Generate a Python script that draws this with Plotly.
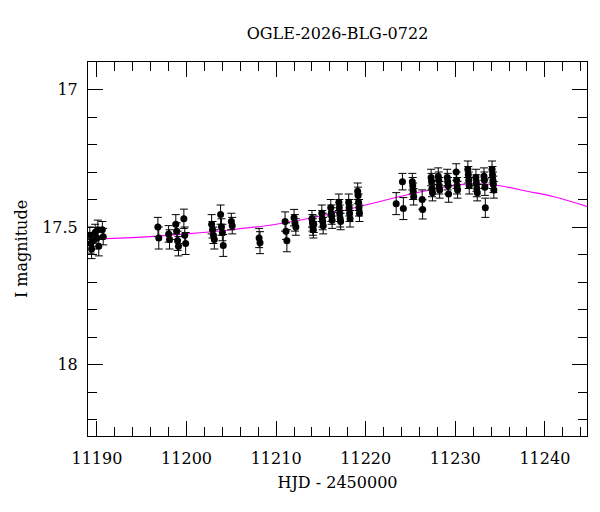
import plotly.graph_objects as go

# Observations: HJD-2450000, I magnitude, error
days = [11189.2, 11189.3, 11189.4, 11189.6, 11189.8, 11190.0, 11190.1, 11190.2, 11190.6, 11190.7,
        11196.8, 11196.9, 11198.0, 11198.1, 11198.8, 11198.9, 11199.0, 11199.1, 11199.7, 11199.8, 11199.9,
        11202.8, 11202.9, 11203.0, 11203.1, 11203.8, 11203.9, 11204.0, 11204.1, 11205.0, 11205.1,
        11208.1, 11208.2,
        11211.0, 11211.1, 11211.2, 11212.0, 11212.1, 11212.2,
        11214.0, 11214.05, 11214.1, 11214.15, 11214.2,
        11215.1, 11215.15, 11215.2, 11215.25,
        11216.1, 11216.15, 11216.2, 11216.25,
        11217.0, 11217.05, 11217.1, 11217.15, 11217.2,
        11218.1, 11218.15, 11218.2, 11218.25,
        11219.1, 11219.15, 11219.2, 11219.25, 11219.3,
        11223.4, 11224.1, 11224.2,
        11225.2, 11225.25, 11225.3, 11225.35,
        11226.3, 11226.35,
        11227.3, 11227.35, 11227.4, 11227.45,
        11228.1, 11228.15, 11228.2, 11228.25,
        11229.1, 11229.15, 11229.2, 11229.25,
        11230.1, 11230.15, 11230.2, 11230.25,
        11231.4, 11231.45, 11231.5, 11231.55,
        11232.3, 11232.35, 11232.4, 11232.45,
        11233.2, 11233.25, 11233.3, 11233.35,
        11234.1, 11234.15, 11234.2, 11234.25, 11234.3]
mags = [17.53, 17.56, 17.58, 17.55, 17.52, 17.54, 17.51, 17.57, 17.51, 17.535,
        17.50, 17.54, 17.525, 17.545, 17.49, 17.515, 17.55, 17.57, 17.47, 17.53, 17.56,
        17.49, 17.51, 17.53, 17.545, 17.455, 17.50, 17.52, 17.567, 17.48, 17.495,
        17.54, 17.557,
        17.48, 17.515, 17.55, 17.466, 17.485, 17.50,
        17.47, 17.485, 17.50, 17.51, 17.49,
        17.45, 17.47, 17.48, 17.495,
        17.43, 17.45, 17.46, 17.475,
        17.41, 17.43, 17.45, 17.47, 17.48,
        17.41, 17.43, 17.45, 17.47,
        17.37, 17.385, 17.41, 17.43, 17.45,
        17.415, 17.335, 17.433,
        17.335, 17.35, 17.37, 17.39,
        17.40, 17.436,
        17.32, 17.335, 17.36, 17.375,
        17.315, 17.33, 17.35, 17.365,
        17.32, 17.335, 17.35, 17.38,
        17.30, 17.33, 17.35, 17.365,
        17.29, 17.31, 17.33, 17.35,
        17.32, 17.34, 17.36, 17.375,
        17.315, 17.33, 17.355, 17.43,
        17.29, 17.31, 17.33, 17.345, 17.365]
errs = [0.03, 0.035, 0.035, 0.03, 0.03, 0.03, 0.035, 0.035, 0.03, 0.03,
        0.035, 0.04, 0.03, 0.035, 0.035, 0.03, 0.035, 0.035, 0.035, 0.03, 0.04,
        0.035, 0.03, 0.03, 0.035, 0.035, 0.03, 0.03, 0.04, 0.03, 0.03,
        0.035, 0.04,
        0.035, 0.03, 0.04, 0.03, 0.03, 0.03,
        0.03, 0.03, 0.03, 0.03, 0.03,
        0.03, 0.03, 0.03, 0.03,
        0.03, 0.03, 0.03, 0.03,
        0.03, 0.03, 0.03, 0.03, 0.03,
        0.03, 0.03, 0.03, 0.03,
        0.03, 0.03, 0.03, 0.03, 0.03,
        0.04, 0.03, 0.04,
        0.03, 0.03, 0.03, 0.03,
        0.035, 0.035,
        0.03, 0.03, 0.03, 0.03,
        0.03, 0.03, 0.03, 0.03,
        0.03, 0.03, 0.03, 0.03,
        0.03, 0.03, 0.03, 0.03,
        0.03, 0.03, 0.03, 0.03,
        0.03, 0.03, 0.03, 0.03,
        0.03, 0.03, 0.03, 0.035,
        0.03, 0.03, 0.03, 0.03, 0.03]

# Model curve
model_days = [11189.0, 11195.0, 11200.0, 11205.0, 11210.0, 11215.0, 11220.0,
              11225.0, 11228.0, 11230.0, 11232.0, 11235.0, 11238.0, 11241.0, 11244.7]
model_mags = [17.545, 17.537, 17.525, 17.51, 17.49, 17.46, 17.42,
              17.38, 17.36, 17.348, 17.343, 17.35, 17.37, 17.39, 17.425]

font_family = "DejaVu Serif"

fig = go.Figure()
fig.add_trace(go.Scatter(
    x=model_days, y=model_mags, mode="lines",
    line=dict(color="#ff00ff", width=1.2, shape="spline"),
    hoverinfo="skip", showlegend=False))
fig.add_trace(go.Scatter(
    x=days, y=mags, mode="markers",
    marker=dict(color="black", size=7),
    error_y=dict(type="data", array=errs, color="black", thickness=1, width=4),
    showlegend=False))

axis_common = dict(
    showline=True, linecolor="black", linewidth=1, mirror="ticks",
    ticks="inside", tickcolor="black", ticklen=15, tickwidth=1,
    showgrid=False, zeroline=False,
    tickfont=dict(family=font_family, size=16, color="black"),
)

fig.update_layout(
    width=600, height=512,
    margin=dict(l=88, r=13, t=62, b=76),
    paper_bgcolor="white", plot_bgcolor="white",
    title=dict(text="OGLE-2026-BLG-0722", x=0.5625, xanchor="center", y=0.935, yanchor="middle",
               font=dict(family=font_family, size=16, color="black")),
    xaxis=dict(range=[11189.0, 11244.7], dtick=10, tick0=11190, tickformat="d",
               ticklabelstandoff=8,
               minor=dict(dtick=2, ticks="inside", ticklen=9, tickcolor="black"),
               title=dict(text="HJD - 2450000", font=dict(family=font_family, size=16, color="black"), standoff=9),
               **axis_common),
    yaxis=dict(range=[18.26, 16.9], dtick=0.5, tick0=17,
               ticklabelstandoff=6,
               minor=dict(dtick=0.1, ticks="inside", ticklen=9, tickcolor="black"),
               title=dict(text="I magnitude", font=dict(family=font_family, size=16, color="black"), standoff=10),
               **axis_common),
)

fig.write_html("out.html")
